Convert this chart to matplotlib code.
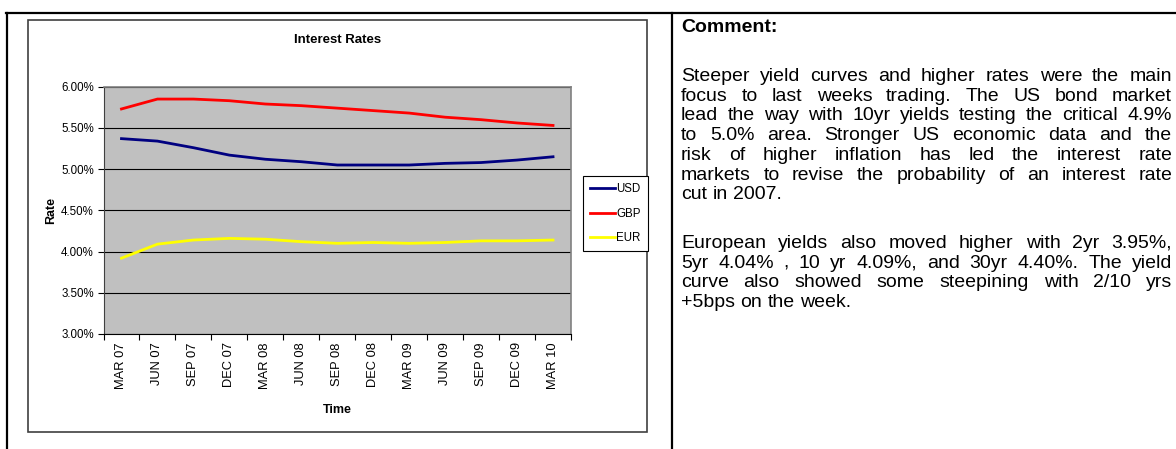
import matplotlib
matplotlib.use('Agg')
import matplotlib.pyplot as plt
from matplotlib.lines import Line2D
from matplotlib.patches import Rectangle
from matplotlib.ticker import FixedLocator, FuncFormatter

plt.rcParams['font.family'] = ['Liberation Sans', 'DejaVu Sans']

# Data (quarterly, % rates)
quarters = ['MAR 07', 'JUN 07', 'SEP 07', 'DEC 07', 'MAR 08', 'JUN 08', 'SEP 08',
            'DEC 08', 'MAR 09', 'JUN 09', 'SEP 09', 'DEC 09', 'MAR 10']
usd = [5.37, 5.34, 5.26, 5.17, 5.12, 5.09, 5.05, 5.05, 5.05, 5.07, 5.08, 5.11, 5.15]
gbp = [5.73, 5.85, 5.85, 5.83, 5.79, 5.77, 5.74, 5.71, 5.68, 5.63, 5.60, 5.56, 5.53]
eur = [3.92, 4.09, 4.14, 4.16, 4.15, 4.12, 4.10, 4.11, 4.10, 4.11, 4.13, 4.13, 4.14]
y_ticks = [3.0, 3.5, 4.0, 4.5, 5.0, 5.5, 6.0]

comment_title = 'Comment:'
para1 = ['Steeper yield curves and higher rates were the main',
         'focus to last weeks trading. The US bond market',
         'lead the way with 10yr yields testing the critical 4.9%',
         'to 5.0% area. Stronger US economic data and the',
         'risk of higher inflation has led the interest rate',
         'markets to revise the probability of an interest rate',
         'cut in 2007.']
para2 = ['European yields also moved higher with 2yr 3.95%,',
         '5yr 4.04% , 10 yr 4.09%, and 30yr 4.40%. The yield',
         'curve also showed some steepining with 2/10 yrs',
         '+5bps on the week.']

W, H = 1176, 449
fig = plt.figure(figsize=(W / 100, H / 100), dpi=100)


def fx(x):
    return x / W


def fy(y):
    return 1 - y / H


# Table frame lines
fig.add_artist(Line2D([fx(6), 1], [fy(12.5), fy(12.5)], color='black', lw=1.6))
fig.add_artist(Line2D([fx(7), fx(7)], [fy(12.5), 0], color='black', lw=1.6))
fig.add_artist(Line2D([fx(672), fx(672)], [fy(12.5), 0], color='black', lw=1.6))

# Chart area border
fig.add_artist(Rectangle((fx(28), fy(432)), fx(647) - fx(28), fy(20) - fy(432),
                         fill=False, edgecolor='#404040', lw=1.2))

# Plot area
ax = fig.add_axes([fx(103.5), fy(334), fx(571) - fx(103.5), fy(86.7) - fy(334)])
ax.set_facecolor('#C0C0C0')

x = list(range(len(quarters)))
ax.plot(x, usd, color='#000080', lw=2.0, label='USD')
ax.plot(x, gbp, color='#FF0000', lw=2.0, label='GBP')
ax.plot(x, eur, color='#FFFF00', lw=2.0, label='EUR')

ax.set_xlim(-0.5, len(quarters) - 0.5)
ax.set_ylim(3.0, 6.0)
ax.yaxis.set_major_locator(FixedLocator(y_ticks))
ax.yaxis.set_major_formatter(FuncFormatter(lambda v, p: '%.2f%%' % v))
ax.grid(axis='y', color='black', lw=0.8)
ax.set_axisbelow(True)

ax.set_xticks(x)
ax.set_xticklabels(quarters, rotation=90, fontsize=9.3)
ax.set_xticks([i - 0.5 for i in range(len(quarters) + 1)], minor=True)
ax.tick_params(axis='x', which='major', length=0, pad=6)
ax.tick_params(axis='x', which='minor', length=4, width=0.8, direction='out')
ax.tick_params(axis='y', labelsize=8.3, length=4, width=0.8, pad=3)

for side in ['top', 'right']:
    ax.spines[side].set_color('#808080')
    ax.spines[side].set_linewidth(1.2)
ax.spines['left'].set_color('#404040')
ax.spines['bottom'].set_color('black')

ax.set_xlabel('Time', fontsize=9, fontweight='bold', labelpad=11)
ax.set_ylabel('Rate', fontsize=9, fontweight='bold', labelpad=3)

fig.text(fx(338), fy(40), 'Interest Rates', fontsize=9.5, fontweight='bold',
         ha='center', va='center')

leg = fig.legend(loc='upper left', bbox_to_anchor=(fx(583), fy(176)), fontsize=8.3,
                 frameon=True, fancybox=False, framealpha=1, edgecolor='black',
                 handlelength=2.2, handletextpad=0.1, labelspacing=1.1,
                 borderpad=0.6, borderaxespad=0)
leg.get_frame().set_linewidth(0.8)

# Justified comment text
renderer = fig.canvas.get_renderer()
left, right = 681, 1172
size = 14


def put_line(line, y, last):
    words = line.split(' ')
    texts = [fig.text(0, fy(y), w, fontsize=size, va='baseline') for w in words]
    widths = [t.get_window_extent(renderer).width for t in texts]
    if last or len(words) == 1:
        gap = 0.278 * size * 100 / 72
    else:
        gap = (right - left - sum(widths)) / (len(words) - 1)
    xpos = left
    for t, w in zip(texts, widths):
        t.set_x(fx(xpos))
        xpos += w + gap


fig.text(fx(left), fy(32), comment_title, fontsize=size, fontweight='bold', va='baseline')
for i, line in enumerate(para1):
    put_line(line, 81 + i * 19.7, i == len(para1) - 1)
for i, line in enumerate(para2):
    put_line(line, 248 + i * 19.7, i == len(para2) - 1)

fig.savefig('out.png', dpi=100)
